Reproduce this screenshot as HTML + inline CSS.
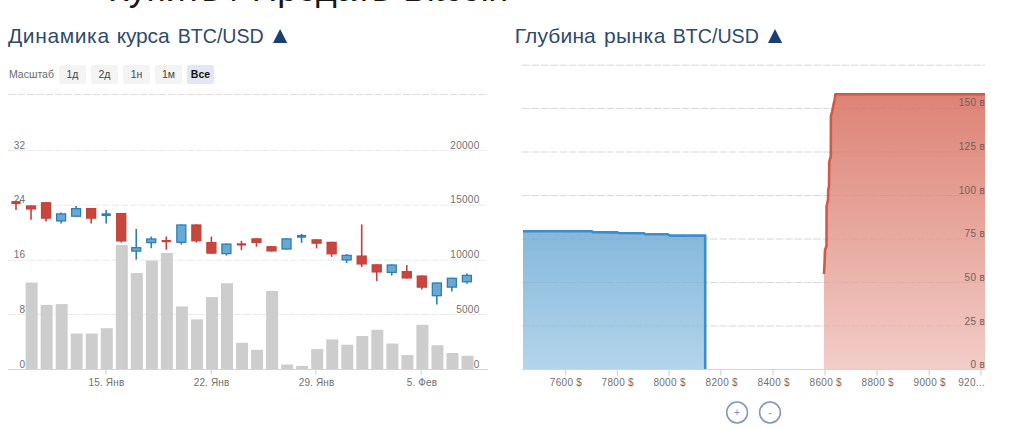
<!DOCTYPE html>
<html lang="ru"><head><meta charset="utf-8"><title>Купить / Продать Bitcoin</title>
<style>
html,body{margin:0;padding:0;background:#fff;}
body{width:1024px;height:429px;overflow:hidden;position:relative;font-family:"Liberation Sans",sans-serif;}
.abs{position:absolute;white-space:nowrap;}
h1{position:absolute;margin:0;left:110px;top:-31px;font-weight:400;font-size:35.5px;line-height:40px;color:#161616;white-space:nowrap;}
h2{position:absolute;margin:0;top:22px;font-weight:400;font-size:20.3px;line-height:28px;color:#2f4a6c;white-space:nowrap;}
h2 .tri{display:inline-block;width:0;height:0;border-left:7.2px solid transparent;border-right:7.2px solid transparent;border-bottom:14px solid #1b3f72;margin-left:10px;vertical-align:-0.5px;}
.btn{position:absolute;top:65px;width:27px;height:18.5px;background:#f4f4f4;border-radius:2px;font-size:10.5px;line-height:18.5px;text-align:center;color:#444;}
.btn.sel{background:#e2e7f4;font-weight:700;color:#111;}
svg .ttl text{fill:#2f4a6c;}
svg .dt text{letter-spacing:.15px;}
svg text{font-family:"Liberation Sans",sans-serif;font-size:10px;letter-spacing:.3px;fill:#707070;}
</style></head><body>
<h1><span style="margin-left:-2px;margin-right:2px">Купить</span> / Продать <span style="margin-left:3px;letter-spacing:-.3px">Bitcoin</span></h1>
<div class="abs" style="left:9px;top:65px;font-size:10.5px;line-height:18.5px;color:#6a6a6a;">Масштаб</div>
<div class="btn" style="left:59px">1д</div>
<div class="btn" style="left:91px">2д</div>
<div class="btn" style="left:123px">1н</div>
<div class="btn" style="left:155px">1м</div>
<div class="btn sel" style="left:187px">Все</div>
<svg class="abs" style="left:0;top:0" width="1024" height="429" viewBox="0 0 1024 429">
<defs>
<linearGradient id="gb" x1="0" y1="0" x2="0" y2="1"><stop offset="0" stop-color="#85b8dc"/><stop offset="1" stop-color="#b3d5eb"/></linearGradient>
<linearGradient id="gr" x1="0" y1="0" x2="0" y2="1"><stop offset="0" stop-color="#dd8375"/><stop offset="1" stop-color="#f2cdc8"/></linearGradient>
</defs>
<g class="ttl">
<text x="8" y="42.8" style="font-size:21px;letter-spacing:.62px">Динамика</text>
<text x="116.7" y="42.8" style="font-size:21px;letter-spacing:-.15px">курса</text>
<text x="177.7" y="42.8" style="font-size:19.6px;letter-spacing:0">BTC/USD</text>
<text x="514.7" y="42.8" style="font-size:21px;letter-spacing:.15px">Глубина</text>
<text x="603.9" y="42.8" style="font-size:21px;letter-spacing:.44px">рынка</text>
<text x="672.8" y="42.8" style="font-size:19.6px;letter-spacing:0">BTC/USD</text>
</g>
<path d="M273,43.1 L280.1,29 L287.2,43.1 Z" fill="#1b3f72"/>
<path d="M768,43.1 L775,29 L782.2,43.1 Z" fill="#1b3f72"/>
<!-- left chart grid -->
<g stroke="#dcdcdc" stroke-width="1" stroke-dasharray="7.6 1.8" fill="none">
<line x1="8" x2="488" y1="94.4" y2="94.4"/>
<line x1="8" x2="488" y1="150.4" y2="150.4" stroke="#e9e9e9"/>
<line x1="8" x2="488" y1="205.2" y2="205.2" stroke="#e9e9e9"/>
<line x1="8" x2="488" y1="260.2" y2="260.2" stroke="#e9e9e9"/>
<line x1="8" x2="488" y1="314.5" y2="314.5" stroke="#e9e9e9"/>
</g>
<g text-anchor="end">
<text x="25.4" y="148.6">32</text>
<text x="25.4" y="203.4">24</text>
<text x="25.4" y="258.4">16</text>
<text x="25.4" y="312.7">8</text>
<text x="25.4" y="367.7">0</text>
<text x="479.6" y="148.6">20000</text>
<text x="479.6" y="203.0">15000</text>
<text x="479.6" y="258.4">10000</text>
<text x="479.6" y="312.7">5000</text>
<text x="479.6" y="367.7">0</text>
</g>
<rect x="25.63" y="282.5" width="12" height="87.0" fill="#cdcdcd"/>
<rect x="40.66" y="304.9" width="12" height="64.6" fill="#cdcdcd"/>
<rect x="55.69" y="304.1" width="12" height="65.4" fill="#cdcdcd"/>
<rect x="70.72" y="333.5" width="12" height="36.0" fill="#cdcdcd"/>
<rect x="85.75" y="333.5" width="12" height="36.0" fill="#cdcdcd"/>
<rect x="100.78" y="328.2" width="12" height="41.3" fill="#cdcdcd"/>
<rect x="115.81" y="245.0" width="12" height="124.5" fill="#cdcdcd"/>
<rect x="130.84" y="273.1" width="12" height="96.4" fill="#cdcdcd"/>
<rect x="145.87" y="260.6" width="12" height="108.9" fill="#cdcdcd"/>
<rect x="160.90" y="253.0" width="12" height="116.5" fill="#cdcdcd"/>
<rect x="175.93" y="306.5" width="12" height="63.0" fill="#cdcdcd"/>
<rect x="190.96" y="319.4" width="12" height="50.1" fill="#cdcdcd"/>
<rect x="205.99" y="297.1" width="12" height="72.4" fill="#cdcdcd"/>
<rect x="221.02" y="283.2" width="12" height="86.3" fill="#cdcdcd"/>
<rect x="236.05" y="342.8" width="12" height="26.7" fill="#cdcdcd"/>
<rect x="251.08" y="349.8" width="12" height="19.7" fill="#cdcdcd"/>
<rect x="266.11" y="291.0" width="12" height="78.5" fill="#cdcdcd"/>
<rect x="281.14" y="364.5" width="12" height="5.0" fill="#cdcdcd"/>
<rect x="296.17" y="365.9" width="12" height="3.6" fill="#cdcdcd"/>
<rect x="311.20" y="349.1" width="12" height="20.4" fill="#cdcdcd"/>
<rect x="326.23" y="339.4" width="12" height="30.1" fill="#cdcdcd"/>
<rect x="341.26" y="344.7" width="12" height="24.8" fill="#cdcdcd"/>
<rect x="356.29" y="336.0" width="12" height="33.5" fill="#cdcdcd"/>
<rect x="371.32" y="329.8" width="12" height="39.7" fill="#cdcdcd"/>
<rect x="386.35" y="343.5" width="12" height="26.0" fill="#cdcdcd"/>
<rect x="401.38" y="355.0" width="12" height="14.5" fill="#cdcdcd"/>
<rect x="416.41" y="324.8" width="12" height="44.7" fill="#cdcdcd"/>
<rect x="431.44" y="345.2" width="12" height="24.3" fill="#cdcdcd"/>
<rect x="446.47" y="353.0" width="12" height="16.5" fill="#cdcdcd"/>
<rect x="461.50" y="355.8" width="12" height="13.7" fill="#cdcdcd"/>
<line x1="16.00" x2="16.00" y1="201.1" y2="210.1" stroke="#c4403a" stroke-width="1.6"/>
<rect x="11.40" y="201.1" width="9.2" height="3.0" fill="#c4403a"/>
<line x1="31.03" x2="31.03" y1="205.4" y2="219.8" stroke="#c4403a" stroke-width="1.6"/>
<rect x="26.53" y="206.0" width="9" height="2.9" fill="#c9463f" stroke="#c4403a" stroke-width="1.3"/>
<line x1="46.06" x2="46.06" y1="202.2" y2="221.5" stroke="#c4403a" stroke-width="1.6"/>
<rect x="41.56" y="202.8" width="9" height="15.3" fill="#c9463f" stroke="#c4403a" stroke-width="1.3"/>
<line x1="61.09" x2="61.09" y1="212.4" y2="223.4" stroke="#2e7db6" stroke-width="1.6"/>
<rect x="56.59" y="213.9" width="9" height="7.0" fill="#6aa8d4" stroke="#2e7db6" stroke-width="1.3"/>
<line x1="76.12" x2="76.12" y1="206.1" y2="216.8" stroke="#2e7db6" stroke-width="1.6"/>
<rect x="71.62" y="208.6" width="9" height="7.6" fill="#6aa8d4" stroke="#2e7db6" stroke-width="1.3"/>
<line x1="91.15" x2="91.15" y1="208.0" y2="223.4" stroke="#c4403a" stroke-width="1.6"/>
<rect x="86.65" y="208.6" width="9" height="9.5" fill="#c9463f" stroke="#c4403a" stroke-width="1.3"/>
<line x1="106.18" x2="106.18" y1="210.1" y2="223.4" stroke="#2e7db6" stroke-width="1.6"/>
<rect x="101.58" y="213.3" width="9.2" height="2.8" fill="#2e7db6"/>
<line x1="121.21" x2="121.21" y1="213.0" y2="242.5" stroke="#c4403a" stroke-width="1.6"/>
<rect x="116.71" y="213.6" width="9" height="27.3" fill="#c9463f" stroke="#c4403a" stroke-width="1.3"/>
<line x1="136.24" x2="136.24" y1="228.9" y2="259.6" stroke="#2e7db6" stroke-width="1.6"/>
<rect x="131.74" y="247.7" width="9" height="3.4" fill="#6aa8d4" stroke="#2e7db6" stroke-width="1.3"/>
<line x1="151.27" x2="151.27" y1="236.5" y2="248.2" stroke="#2e7db6" stroke-width="1.6"/>
<rect x="146.77" y="239.0" width="9" height="3.6" fill="#6aa8d4" stroke="#2e7db6" stroke-width="1.3"/>
<line x1="166.30" x2="166.30" y1="236.5" y2="249.7" stroke="#c4403a" stroke-width="1.6"/>
<rect x="161.70" y="240.0" width="9.2" height="2.2" fill="#c4403a"/>
<line x1="181.33" x2="181.33" y1="224.4" y2="244.6" stroke="#2e7db6" stroke-width="1.6"/>
<rect x="176.83" y="225.0" width="9" height="17.3" fill="#6aa8d4" stroke="#2e7db6" stroke-width="1.3"/>
<line x1="196.36" x2="196.36" y1="224.4" y2="242.5" stroke="#c4403a" stroke-width="1.6"/>
<rect x="191.86" y="225.0" width="9" height="15.8" fill="#c9463f" stroke="#c4403a" stroke-width="1.3"/>
<line x1="211.39" x2="211.39" y1="236.6" y2="253.7" stroke="#c4403a" stroke-width="1.6"/>
<rect x="206.89" y="242.6" width="9" height="10.5" fill="#c9463f" stroke="#c4403a" stroke-width="1.3"/>
<line x1="226.42" x2="226.42" y1="243.5" y2="255.6" stroke="#2e7db6" stroke-width="1.6"/>
<rect x="221.92" y="244.1" width="9" height="9.5" fill="#6aa8d4" stroke="#2e7db6" stroke-width="1.3"/>
<line x1="241.45" x2="241.45" y1="240.8" y2="250.2" stroke="#c4403a" stroke-width="1.6"/>
<rect x="236.85" y="243.3" width="9.2" height="2.2" fill="#c4403a"/>
<line x1="256.48" x2="256.48" y1="238.3" y2="246.7" stroke="#c4403a" stroke-width="1.6"/>
<rect x="251.98" y="238.9" width="9" height="3.4" fill="#c9463f" stroke="#c4403a" stroke-width="1.3"/>
<line x1="271.51" x2="271.51" y1="246.2" y2="251.5" stroke="#c4403a" stroke-width="1.6"/>
<rect x="267.01" y="246.8" width="9" height="4.1" fill="#c9463f" stroke="#c4403a" stroke-width="1.3"/>
<line x1="286.54" x2="286.54" y1="238.3" y2="249.6" stroke="#2e7db6" stroke-width="1.6"/>
<rect x="282.04" y="238.9" width="9" height="10.1" fill="#6aa8d4" stroke="#2e7db6" stroke-width="1.3"/>
<line x1="301.57" x2="301.57" y1="233.9" y2="242.9" stroke="#2e7db6" stroke-width="1.6"/>
<rect x="296.97" y="234.9" width="9.2" height="2.8" fill="#2e7db6"/>
<line x1="316.60" x2="316.60" y1="239.3" y2="248.4" stroke="#c4403a" stroke-width="1.6"/>
<rect x="312.10" y="239.9" width="9" height="3.2" fill="#c9463f" stroke="#c4403a" stroke-width="1.3"/>
<line x1="331.63" x2="331.63" y1="241.8" y2="256.9" stroke="#c4403a" stroke-width="1.6"/>
<rect x="327.13" y="242.4" width="9" height="11.4" fill="#c9463f" stroke="#c4403a" stroke-width="1.3"/>
<line x1="346.66" x2="346.66" y1="254.0" y2="263.0" stroke="#2e7db6" stroke-width="1.6"/>
<rect x="342.16" y="255.4" width="9" height="4.5" fill="#6aa8d4" stroke="#2e7db6" stroke-width="1.3"/>
<line x1="361.69" x2="361.69" y1="224.4" y2="266.9" stroke="#c4403a" stroke-width="1.6"/>
<rect x="357.19" y="256.1" width="9" height="7.8" fill="#c9463f" stroke="#c4403a" stroke-width="1.3"/>
<line x1="376.72" x2="376.72" y1="264.3" y2="281.1" stroke="#c4403a" stroke-width="1.6"/>
<rect x="372.22" y="264.9" width="9" height="7.0" fill="#c9463f" stroke="#c4403a" stroke-width="1.3"/>
<line x1="391.75" x2="391.75" y1="264.4" y2="275.5" stroke="#2e7db6" stroke-width="1.6"/>
<rect x="387.25" y="265.0" width="9" height="7.4" fill="#6aa8d4" stroke="#2e7db6" stroke-width="1.3"/>
<line x1="406.78" x2="406.78" y1="265.1" y2="278.5" stroke="#c4403a" stroke-width="1.6"/>
<rect x="402.28" y="271.7" width="9" height="6.2" fill="#c9463f" stroke="#c4403a" stroke-width="1.3"/>
<line x1="421.81" x2="421.81" y1="275.5" y2="289.6" stroke="#c4403a" stroke-width="1.6"/>
<rect x="417.31" y="276.1" width="9" height="11.0" fill="#c9463f" stroke="#c4403a" stroke-width="1.3"/>
<line x1="436.84" x2="436.84" y1="282.4" y2="304.5" stroke="#2e7db6" stroke-width="1.6"/>
<rect x="432.34" y="283.0" width="9" height="12.7" fill="#6aa8d4" stroke="#2e7db6" stroke-width="1.3"/>
<line x1="451.87" x2="451.87" y1="277.7" y2="291.5" stroke="#2e7db6" stroke-width="1.6"/>
<rect x="447.37" y="278.3" width="9" height="8.8" fill="#6aa8d4" stroke="#2e7db6" stroke-width="1.3"/>
<line x1="466.90" x2="466.90" y1="273.6" y2="283.7" stroke="#2e7db6" stroke-width="1.6"/>
<rect x="462.40" y="275.4" width="9" height="6.4" fill="#6aa8d4" stroke="#2e7db6" stroke-width="1.3"/>
<line x1="8" x2="488" y1="369.5" y2="369.5" stroke="#c9d6ea" stroke-width="1.2"/>
<g stroke="#c9d6ea" stroke-width="1.2">
<line x1="105.9" x2="105.9" y1="369.5" y2="374.5"/>
<line x1="211.2" x2="211.2" y1="369.5" y2="374.5"/>
<line x1="315.8" x2="315.8" y1="369.5" y2="374.5"/>
<line x1="421.2" x2="421.2" y1="369.5" y2="374.5"/>
</g>
<g text-anchor="middle" class="dt">
<text x="106.5" y="386">15. Янв</text>
<text x="211.6" y="386">22. Янв</text>
<text x="316.6" y="386">29. Янв</text>
<text x="422" y="386">5. Фев</text>
</g>
<!-- right chart -->
<g stroke="#e1e1e1" stroke-width="1" stroke-dasharray="7.6 1.8" fill="none">
<line x1="522" x2="985" y1="65.2" y2="65.2"/>
<line x1="522" x2="985" y1="108.5" y2="108.5"/>
<line x1="522" x2="985" y1="152.0" y2="152.0"/>
<line x1="522" x2="985" y1="195.5" y2="195.5"/>
<line x1="522" x2="985" y1="239.0" y2="239.0"/>
<line x1="522" x2="985" y1="282.5" y2="282.5"/>
<line x1="522" x2="985" y1="326.0" y2="326.0"/>
</g>
<path d="M523,231.3 L591.9,231.3 L593,232.2 L617.5,232.4 L618.5,233 L644,233.2 L645,234.1 L668,234.3 L670,235.6 L705.2,235.6 L705.2,369.5 L523,369.5 Z" fill="url(#gb)"/>
<path d="M824,369.5 L824,274 L824.6,262 L825,250 L826.5,246 L826.6,206 L828,200 L828.2,190 L829,186 L829.2,162 L830.8,156 L830.9,116 L832,112 L833.6,104 L834.6,100 L835.4,94.2 L985,94.2 L985,369.5 Z" fill="url(#gr)"/>
<g stroke="#000" stroke-width="1" stroke-dasharray="7.6 1.8" fill="none" opacity="0.03">
<line x1="522" x2="985" y1="65.2" y2="65.2"/>
<line x1="522" x2="985" y1="108.5" y2="108.5"/>
<line x1="522" x2="985" y1="152.0" y2="152.0"/>
<line x1="522" x2="985" y1="195.5" y2="195.5"/>
<line x1="522" x2="985" y1="239.0" y2="239.0"/>
<line x1="522" x2="985" y1="282.5" y2="282.5"/>
<line x1="522" x2="985" y1="326.0" y2="326.0"/>
</g>
<path d="M523,231.3 L591.9,231.3 L593,232.2 L617.5,232.4 L618.5,233 L644,233.2 L645,234.1 L668,234.3 L670,235.6 L705.2,235.6 L705.2,369.5" fill="none" stroke="#3d8dc8" stroke-width="2.6" stroke-linejoin="round"/>
<path d="M824,274 L824.6,262 L825,250 L826.5,246 L826.6,206 L828,200 L828.2,190 L829,186 L829.2,162 L830.8,156 L830.9,116 L832,112 L833.6,104 L834.6,100 L835.4,94.2 L985,94.2" fill="none" stroke="#cd5b49" stroke-width="2.6" stroke-linejoin="round"/>
<line x1="522" x2="985" y1="369.5" y2="369.5" stroke="#c9d6ea" stroke-width="1.2"/>
<g stroke="#c9d6ea" stroke-width="1.2">
<line x1="565.6" x2="565.6" y1="369.5" y2="375.5"/>
<line x1="617.4" x2="617.4" y1="369.5" y2="375.5"/>
<line x1="669.1" x2="669.1" y1="369.5" y2="375.5"/>
<line x1="720.9" x2="720.9" y1="369.5" y2="375.5"/>
<line x1="773.0" x2="773.0" y1="369.5" y2="375.5"/>
<line x1="825.0" x2="825.0" y1="369.5" y2="375.5"/>
<line x1="877.1" x2="877.1" y1="369.5" y2="375.5"/>
<line x1="929.2" x2="929.2" y1="369.5" y2="375.5"/>
<line x1="981.0" x2="981.0" y1="369.5" y2="375.5"/>
</g>
<g text-anchor="middle">
<text x="566" y="386.3">7600 $</text>
<text x="617.8" y="386.3">7800 $</text>
<text x="669.6" y="386.3">8000 $</text>
<text x="721.8" y="386.3">8200 $</text>
<text x="773.8" y="386.3">8400 $</text>
<text x="825.8" y="386.3">8600 $</text>
<text x="877.8" y="386.3">8800 $</text>
<text x="929.8" y="386.3">9000 $</text>
</g>
<text x="985" y="386.3" text-anchor="end">920...</text>
<g text-anchor="end" style="fill:#755d5a">
<text x="985" y="106.4" style="fill:#755d5a">150 в</text>
<text x="985" y="150.1" style="fill:#755d5a">125 в</text>
<text x="985" y="193.6" style="fill:#755d5a">100 в</text>
<text x="985" y="237.1" style="fill:#755d5a">75 в</text>
<text x="985" y="280.8" style="fill:#755d5a">50 в</text>
<text x="985" y="324.6" style="fill:#755d5a">25 в</text>
<text x="985" y="367.6" style="fill:#755d5a">0 в</text>
</g>
<circle cx="737.1" cy="412.5" r="10.4" fill="#fff" stroke="#8196c2" stroke-width="1.5"/>
<circle cx="770" cy="412.5" r="10.4" fill="#fff" stroke="#8196c2" stroke-width="1.5"/>
<text x="737.1" y="415.6" text-anchor="middle" style="font-size:10px;fill:#7a88cf">+</text>
<text x="770" y="415.6" text-anchor="middle" style="font-size:10px;fill:#7a88cf">-</text>
</svg>
</body></html>
